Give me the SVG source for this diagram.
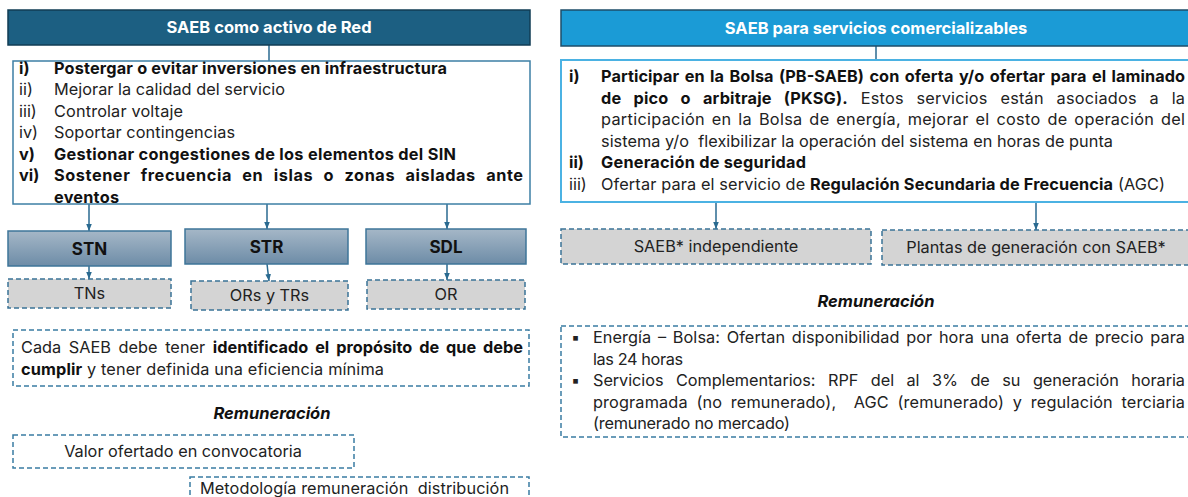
<svg xmlns="http://www.w3.org/2000/svg" width="1188" height="497" viewBox="0 0 1188 497">
<defs>
<linearGradient id="gNode" x1="0" y1="0" x2="0" y2="1">
<stop offset="0" stop-color="#a5b7c7"/>
<stop offset="1" stop-color="#6d8ca7"/>
</linearGradient>
<marker id="arr" viewBox="0 0 10 10" refX="10" refY="5" markerWidth="7" markerHeight="7" orient="auto" markerUnits="userSpaceOnUse">
<path d="M0,1 L10,5 L0,9 z" fill="#2a6a90"/>
</marker>
<style>
text{font-family:Inter,"Liberation Sans",sans-serif;fill:#222;font-size:16.3px;}
.b{font-weight:700;fill:#111;}
.hdr{font-size:16.5px;font-weight:700;fill:#fff;}
.nl{font-size:17px;font-weight:700;fill:#111;}
.bi{font-size:16.5px;font-weight:700;font-style:italic;fill:#111;}
.hdrL{fill:#1c5f82;stroke:#103c54;stroke-width:1.5;}
.hdrR{fill:#1b9bd6;stroke:#1e4d6a;stroke-width:1.5;}
.boxL{fill:#fff;stroke:#3d7fa5;stroke-width:1.5;}
.boxR{fill:#fff;stroke:#4bb2e3;stroke-width:2;}
.node{fill:url(#gNode);stroke:#3e7599;stroke-width:1.5;}
.grey{fill:#d4d4d4;stroke:#3a7397;stroke-width:1.5;stroke-dasharray:5 3;}
.dash{fill:none;stroke:#3a7ca3;stroke-width:1.5;stroke-dasharray:5 3;}
.con{stroke:#2a6a90;stroke-width:1.5;fill:none;}
.ca{stroke:#2a6a90;stroke-width:1.5;fill:none;marker-end:url(#arr);}
</style>
</defs>

<g id="connectors">
<line class="con" x1="269" y1="45" x2="269" y2="61"/>
<line class="con" x1="876" y1="46" x2="876" y2="60"/>
<line class="ca" x1="89" y1="204" x2="89" y2="231"/>
<line class="ca" x1="267" y1="204" x2="267" y2="229"/>
<line class="ca" x1="447" y1="204" x2="447" y2="229"/>
<line class="ca" x1="89" y1="266" x2="89" y2="279"/>
<line class="ca" x1="267" y1="264" x2="269" y2="281"/>
<line class="ca" x1="447" y1="264" x2="447" y2="280"/>
<line class="ca" x1="716" y1="202" x2="716" y2="229"/>
<line class="ca" x1="1036" y1="202" x2="1036" y2="230"/>
</g>

<g id="hdr-left">
<rect class="hdrL" x="8" y="10" width="522" height="35"/>
<text class="hdr" x="269" y="33" text-anchor="middle">SAEB como activo de Red</text>
</g>

<g id="list-left">
<rect class="boxL" x="13" y="61" width="517" height="143"/>
<text class="b" x="19" y="73.5">i)</text>
<text class="b" x="54" y="73.5" textLength="393">Postergar o evitar inversiones en infraestructura</text>
<text x="19" y="95">ii)</text>
<text x="54" y="95" textLength="231">Mejorar la calidad del servicio</text>
<text x="19" y="116.5">iii)</text>
<text x="54" y="116.5" textLength="129">Controlar voltaje</text>
<text x="19" y="138">iv)</text>
<text x="54" y="138" textLength="181">Soportar contingencias</text>
<text class="b" x="19" y="159.5">v)</text>
<text class="b" x="54" y="159.5" textLength="402">Gestionar congestiones de los elementos del SIN</text>
<text class="b" x="19" y="181">vi)</text>
<text class="b" x="54" y="181" textLength="469" word-spacing="6">Sostener frecuencia en islas o zonas aisladas ante</text>
<text class="b" x="54" y="202.5" textLength="65">eventos</text>
</g>

<g id="node-stn">
<rect class="node" x="8" y="231" width="163" height="35"/>
<text class="nl" x="89.5" y="254.5" text-anchor="middle">STN</text>
</g>
<g id="node-str">
<rect class="node" x="185" y="229" width="163" height="35"/>
<text class="nl" x="266.5" y="252.5" text-anchor="middle">STR</text>
</g>
<g id="node-sdl">
<rect class="node" x="366" y="229" width="160" height="35"/>
<text class="nl" x="446" y="252.5" text-anchor="middle">SDL</text>
</g>

<g id="node-tns">
<rect class="grey" x="8" y="279" width="163" height="29"/>
<text x="89.5" y="299" text-anchor="middle">TNs</text>
</g>
<g id="node-ors">
<rect class="grey" x="191" y="281" width="157" height="29"/>
<text x="269.5" y="301" text-anchor="middle">ORs y TRs</text>
</g>
<g id="node-or">
<rect class="grey" x="367" y="280" width="158" height="29"/>
<text x="446" y="300" text-anchor="middle">OR</text>
</g>

<g id="note-left">
<rect class="dash" x="13" y="330" width="516" height="56"/>
<text x="21" y="353" textLength="502" word-spacing="3">Cada SAEB debe tener <tspan class="b">identificado el propósito de que debe</tspan></text>
<text x="21" y="374.5" textLength="363"><tspan class="b">cumplir</tspan> y tener definida una eficiencia mínima</text>
</g>

<g id="remun-left">
<text class="bi" x="272" y="419" text-anchor="middle">Remuneración</text>
</g>
<g id="valor">
<rect class="dash" x="13" y="435" width="341" height="33"/>
<text x="183" y="457" text-anchor="middle">Valor ofertado en convocatoria</text>
</g>
<g id="metodologia">
<rect class="dash" x="190" y="477" width="339" height="30"/>
<text x="200" y="493.5" textLength="309">Metodología remuneración&#160; distribución</text>
</g>

<g id="hdr-right">
<rect class="hdrR" x="561" y="10" width="640" height="36"/>
<text class="hdr" x="876" y="33.5" text-anchor="middle">SAEB para servicios comercializables</text>
</g>

<g id="list-right">
<rect class="boxR" x="561" y="60" width="640" height="142"/>
<text class="b" x="569" y="82">i)</text>
<text class="b" x="601" y="82" textLength="584" word-spacing="1.5">Participar en la Bolsa (PB-SAEB) con oferta y/o ofertar para el laminado</text>
<text x="601" y="103.5" textLength="584" word-spacing="8"><tspan class="b">de pico o arbitraje (PKSG).</tspan> Estos servicios están asociados a la</text>
<text x="601" y="125" textLength="584" word-spacing="2">participación en la Bolsa de energía, mejorar el costo de operación del</text>
<text x="601" y="146.5" textLength="512">sistema y/o&#160; flexibilizar la operación del sistema en horas de punta</text>
<text class="b" x="569" y="168">ii)</text>
<text class="b" x="601" y="168" textLength="205">Generación de seguridad</text>
<text x="569" y="189.5">iii)</text>
<text x="601" y="189.5" textLength="564">Ofertar para el servicio de <tspan class="b">Regulación Secundaria de Frecuencia</tspan> (AGC)</text>
</g>

<g id="node-indep">
<rect class="grey" x="561" y="229" width="310" height="35"/>
<text x="716" y="252" text-anchor="middle">SAEB* independiente</text>
</g>
<g id="node-plantas">
<rect class="grey" x="882" y="230" width="320" height="35"/>
<text x="1036" y="253" text-anchor="middle">Plantas de generación con SAEB*</text>
</g>

<g id="remun-right">
<text class="bi" x="876" y="307" text-anchor="middle">Remuneración</text>
<rect class="dash" x="561" y="326" width="640" height="111"/>
<text x="571" y="343">▪</text>
<text x="593" y="343" textLength="592" word-spacing="2">Energía – Bolsa: Ofertan disponibilidad por hora una oferta de precio para</text>
<text x="593" y="364.5" textLength="90">las 24 horas</text>
<text x="571" y="386">▪</text>
<text x="593" y="386" textLength="592" word-spacing="8">Servicios Complementarios: RPF del al 3% de su generación horaria</text>
<text x="593" y="407.5" textLength="592" word-spacing="4">programada (no remunerado),&#160; AGC (remunerado) y regulación terciaria</text>
<text x="593" y="429" textLength="197">(remunerado no mercado)</text>
</g>
</svg>
